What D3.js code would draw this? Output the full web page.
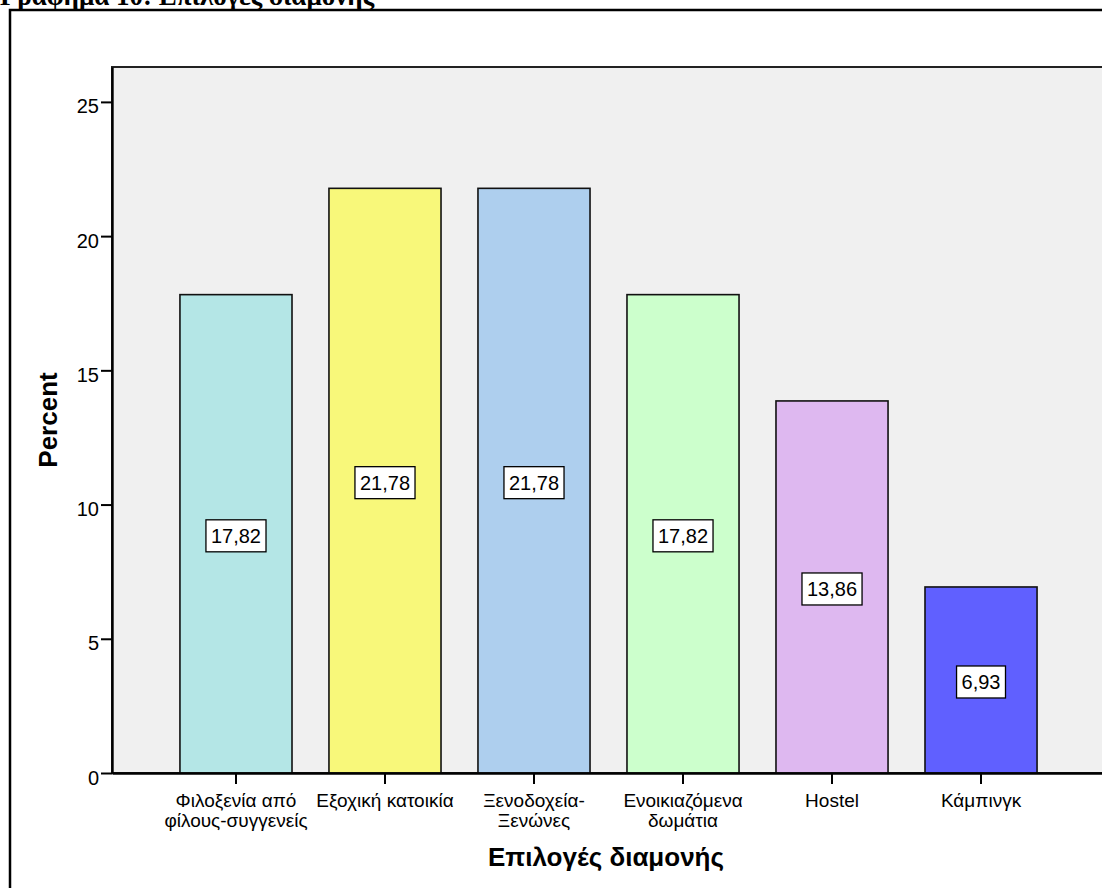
<!DOCTYPE html>
<html>
<head>
<meta charset="utf-8">
<script src="https://cdn.jsdelivr.net/npm/d3@7"></script>
<style>
  html, body { margin: 0; padding: 0; background: #ffffff; overflow: hidden; }
  svg { display: block; }
</style>
</head>
<body>
<svg id="chart" width="1102" height="888"></svg>
<script>
// ---- data ----
const categories = [
  ["Φιλοξενία από", "φίλους-συγγενείς"],
  ["Εξοχική κατοικία"],
  ["Ξενοδοχεία-", "Ξενώνες"],
  ["Ενοικιαζόμενα", "δωμάτια"],
  ["Hostel"],
  ["Κάμπινγκ"]
];
const percentValues = [17.82, 21.78, 21.78, 17.82, 13.86, 6.93];
const valueLabels = ["17,82", "21,78", "21,78", "17,82", "13,86", "6,93"];
const barColors = ["#b4e6e6", "#f8f87a", "#aecfee", "#ccffcc", "#deb8f0", "#6060ff"];
const yTicks = [0, 5, 10, 15, 20, 25];
const chartTitle = "Γράφημα 10: Επιλογές διαμονής";
const xTitle = "Επιλογές διαμονής";
const yTitle = "Percent";

// ---- layout ----
const svg = d3.select("#chart");
const plot = { left: 112, right: 1105, top: 67, bottom: 773 };
const font = "Arial, 'Liberation Sans', Helvetica, sans-serif";

// page title (clipped at top, as in the reference)
svg.append("text")
  .attr("x", 0).attr("y", 5)
  .attr("font-family", "'Times New Roman', 'Liberation Serif', serif")
  .attr("font-weight", "bold")
  .attr("font-size", 27)
  .attr("fill", "#000")
  .text(chartTitle);

// outer frame
svg.append("rect")
  .attr("x", 10).attr("y", 10)
  .attr("width", 1200).attr("height", 1000)
  .attr("fill", "#fff")
  .attr("stroke", "#000").attr("stroke-width", 2.5);

const ids = d3.range(categories.length);
const x = d3.scaleBand()
  .domain(ids)
  .range([plot.left, plot.right])
  .paddingInner(0.248)
  .paddingOuter(0.456);

const y = d3.scaleLinear()
  .domain([0, 26.3])
  .range([plot.bottom, plot.top]);

// plot background
svg.append("rect")
  .attr("x", plot.left).attr("y", plot.top)
  .attr("width", plot.right - plot.left)
  .attr("height", plot.bottom - plot.top)
  .attr("fill", "#f0f0f0")
  .attr("stroke", "#222").attr("stroke-width", 2);

// bars
svg.append("g").selectAll("rect")
  .data(ids)
  .join("rect")
  .attr("x", i => x(i))
  .attr("y", i => y(percentValues[i]))
  .attr("width", x.bandwidth())
  .attr("height", i => y(0) - y(percentValues[i]))
  .attr("fill", i => barColors[i])
  .attr("stroke", "#111")
  .attr("stroke-width", 1.6);

// value labels
const lab = svg.append("g").selectAll("g")
  .data(ids)
  .join("g")
  .attr("transform", i => `translate(${x(i) + x.bandwidth() / 2},${(y(percentValues[i]) + y(0)) / 2 + 2})`);
lab.each(function(i) {
  const g = d3.select(this);
  const t = g.append("text")
    .attr("text-anchor", "middle")
    .attr("dy", "0.36em")
    .attr("font-family", font)
    .attr("font-size", 20)
    .attr("fill", "#000")
    .text(valueLabels[i]);
  const w = t.node().getComputedTextLength();
  g.insert("rect", "text")
    .attr("x", -w / 2 - 5).attr("y", -16)
    .attr("width", w + 10).attr("height", 32)
    .attr("fill", "#fff")
    .attr("stroke", "#000").attr("stroke-width", 1.3);
});

// y axis
const yAxis = d3.axisLeft(y).tickValues(yTicks).tickSize(11).tickSizeOuter(0).tickPadding(2).tickFormat(d3.format("d"));
const yg = svg.append("g").attr("transform", `translate(${plot.left},0)`).call(yAxis);
yg.select(".domain").attr("stroke", "#000").attr("stroke-width", 2.4);
yg.selectAll(".tick line").attr("stroke", "#000").attr("stroke-width", 2);
yg.selectAll(".tick text")
  .attr("font-family", font).attr("font-size", 20).attr("fill", "#000")
  .attr("dy", "0.55em");

// x axis
const xAxis = d3.axisBottom(x).tickSize(11).tickSizeOuter(0).tickFormat("");
const xg = svg.append("g").attr("transform", `translate(0,${plot.bottom})`).call(xAxis);
xg.select(".domain").attr("stroke", "#000").attr("stroke-width", 2.4);
xg.selectAll(".tick line").attr("stroke", "#000").attr("stroke-width", 2);
xg.selectAll(".tick").each(function(i) {
  const t = d3.select(this).append("text")
    .attr("text-anchor", "middle")
    .attr("font-family", font)
    .attr("font-size", 19)
    .attr("fill", "#000");
  categories[i].forEach((line, k) => {
    t.append("tspan").attr("x", 0).attr("y", 34 + k * 20).text(line);
  });
});

// axis titles
svg.append("text")
  .attr("x", 606).attr("y", 866)
  .attr("text-anchor", "middle")
  .attr("font-family", font).attr("font-weight", "bold").attr("font-size", 26)
  .attr("fill", "#000")
  .text(xTitle);

svg.append("text")
  .attr("transform", "translate(57,420) rotate(-90)")
  .attr("text-anchor", "middle")
  .attr("font-family", font).attr("font-weight", "bold").attr("font-size", 26)
  .attr("fill", "#000")
  .text(yTitle);
</script>
</body>
</html>
